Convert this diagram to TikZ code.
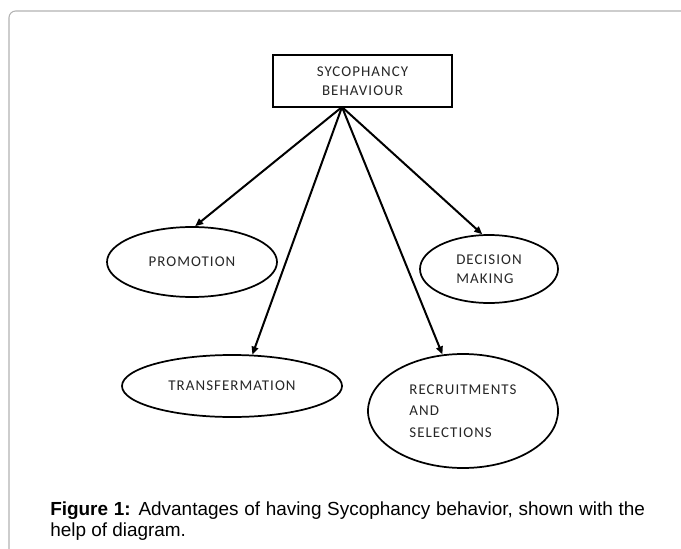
\documentclass[tikz,border=0pt]{standalone}
\usepackage{fontspec}
\setmainfont{Liberation Sans}
\newfontfamily\diagfont{Carlito}[LetterSpace=7]
\usepackage{tikz}
\usetikzlibrary{arrows.meta,shapes.geometric}

\begin{document}
\begin{tikzpicture}[
  x=0.75pt,y=-0.75pt,
  font=\diagfont\fontsize{11.2}{14.5}\selectfont,
  >={Triangle[length=6pt,width=5pt]},
  topic/.style={draw,line width=1.6pt,minimum width=134pt,minimum height=39pt,
    inner sep=0pt,align=center,text=black!85},
  outcome/.style={draw,ellipse,line width=1.3pt,inner sep=0pt,align=center,text=black!85},
  arrow/.style={->,line width=1.5pt,draw=black},
  caption/.style={font=\normalfont\fontsize{14.2}{15.75}\selectfont,text width=446pt,
    align=justify,inner sep=0pt,anchor=north west}
]
\useasboundingbox (0,0) rectangle (681,549);
\draw[black!30,line width=0.8pt,rounded corners=5pt] (9,549) -- (9,11) -- (681,11);

\node[topic] (syc) at (362.5,81) {SYCOPHANCY\\BEHAVIOUR};
\coordinate (hub) at (342,107);

\node[outcome,minimum width=127.5pt,minimum height=52.5pt] (prom) at (192,262) {PROMOTION};
\node[outcome,minimum width=103.5pt,minimum height=51pt,align=left] (dec) at (489,269) {DECISION\\MAKING};
\node[outcome,minimum width=165pt,minimum height=46.5pt] (trans) at (232,386) {TRANSFERMATION};
\node[outcome,minimum width=142.5pt,minimum height=85.5pt,align=left,
  font=\diagfont\fontsize{11.2}{16}\selectfont] (rec) at (463,411) {RECRUITMENTS\\AND\\SELECTIONS};

\draw[arrow] (hub) -- (prom.85);
\draw[arrow] (hub) -- (trans.57);
\draw[arrow] (hub) -- (rec.110);
\draw[arrow] (hub) -- (dec.101);

\node[caption] (cap) at (50,502) {\textbf{Figure 1:} Advantages of having Sycophancy behavior, shown with the\linebreak help of diagram.};
\end{tikzpicture}
\end{document}
